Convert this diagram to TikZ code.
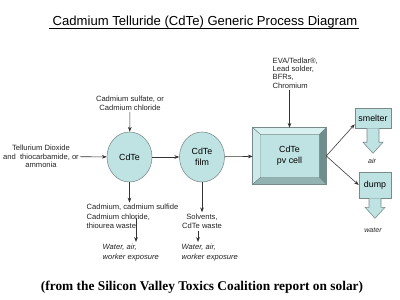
\documentclass[tikz,border=0pt]{standalone}
\usepackage{fontspec}
\setmainfont{Liberation Sans}
\newfontfamily\capfont{Liberation Serif}
\usepackage{tikz}
\usetikzlibrary{positioning,calc,shapes.geometric,arrows.meta}
\definecolor{cdfill}{HTML}{BFE3E3}
\definecolor{cdline}{HTML}{7A8A8A}
\definecolor{cdlite}{HTML}{D9F0F0}
\definecolor{cdleft}{HTML}{CDEAEA}
\definecolor{cddark}{HTML}{6E8E8E}
\definecolor{cdmid}{HTML}{93B3B3}
\definecolor{cdtext}{HTML}{222222}

\begin{document}
\begin{tikzpicture}[x=0.025cm, y=-0.025cm,
  lbl/.style={font=\fontsize{5.4}{6.2}\selectfont\color{cdtext}, inner sep=1pt, align=center},
  wastetxt/.style={lbl, font=\fontsize{5.4}{6.8}\selectfont\color{cdtext}},
  exptxt/.style={lbl, align=left, anchor=west, font=\fontsize{5.4}{7.6}\selectfont\itshape\color{cdtext}},
  proc/.style={ellipse, draw=cdline, fill=cdfill, line width=0.4pt, minimum width=1.125cm,
    minimum height=1.25cm, inner sep=0pt, align=center, font=\fontsize{6.3}{7.8}\selectfont},
  bin/.style={rectangle, draw=cdline, fill=cdfill, line width=0.4pt, inner sep=0pt,
    font=\fontsize{6.3}{7.8}\selectfont},
  spout/.style={draw=cdline, fill=cdfill, line width=0.4pt},
  flow/.style={draw=black!80, line width=0.4pt, -{Stealth[length=3.4pt,width=2.6pt]}},
]
\useasboundingbox (0,0) rectangle (400,300);

% heading
\node[inner sep=0pt, font=\fontsize{9.3}{11}\selectfont] (title) at (205,22)
  {Cadmium Telluride (CdTe) Generic Process Diagram};
\draw[line width=0.5pt] ($(title.south west)+(-3,0)$) -- ($(title.south east)+(1,0)$);

% process steps
\node[proc] (cdte) at (129.5,157) {CdTe};
\node[proc] (film) at (202,157) {CdTe\\film};
\node[rectangle, draw=cdline, fill=cdfill, line width=0.4pt, minimum width=1.825cm,
  minimum height=1.4cm, align=center, font=\fontsize{6.3}{7.8}\selectfont] (cell) at (289.5,156)
  {CdTe\\pv cell};
% bevelled frame of the pv cell
\filldraw[draw=cdline, fill=cdlite, line width=0.3pt] (cell.north west) -- (cell.north east)
  -- ($(cell.north east)+(-7,7)$) -- ($(cell.north west)+(8,7)$) -- cycle;
\filldraw[draw=cdline, fill=cdleft, line width=0.3pt] (cell.north west) -- ($(cell.north west)+(8,7)$)
  -- ($(cell.south west)+(8,-7)$) -- (cell.south west) -- cycle;
\filldraw[draw=cdline, fill=cddark, line width=0.3pt] (cell.north east) -- ($(cell.north east)+(-7,7)$)
  -- ($(cell.south east)+(-7,-7)$) -- (cell.south east) -- cycle;
\filldraw[draw=cdline, fill=cdmid, line width=0.3pt] (cell.south west) -- ($(cell.south west)+(8,-7)$)
  -- ($(cell.south east)+(-7,-7)$) -- (cell.south east) -- cycle;
\draw[cdline, line width=0.4pt] (cell.north west) rectangle (cell.south east);

\node[bin, minimum width=0.9cm, minimum height=0.5cm] (smelter) at (373,118) {smelter};
\node[bin, minimum width=0.8cm, minimum height=0.65cm] (dump) at (375,185) {dump};
\foreach \b/\h in {smelter/14, dump/9} {
  \filldraw[spout] ($(\b.south)+(-6,0)$) -- ++(0,\h) -- ++(-4,0) -- ++(10,11) -- ++(10,-11)
    -- ++(-4,0) -- ++(0,-\h);
}
\node[lbl, font=\fontsize{5}{6}\selectfont\itshape\color{cdtext}] (air) at (372,161) {air};
\node[lbl, font=\fontsize{5}{6}\selectfont\itshape\color{cdtext}] (water) at (373,230) {water};

% inputs
\node[lbl] (tel) at (41,156.5) {Tellurium Dioxide\\and\ \ thiocarbamide, or\\ammonia};
\node[lbl] (sulf) at (130,103) {Cadmium sulfate, or\\Cadmium chloride};
\node[lbl, align=left, anchor=west, font=\fontsize{5.4}{5.9}\selectfont\color{cdtext}] (eva) at (271,73)
  {EVA/Tedlar®,\\Lead solder,\\BFRs,\\Chromium};

% wastes
\node[wastetxt, align=left, anchor=west] (waste1) at (85,216.5)
  {Cadmium, cadmium sulfide\\Cadmium chloride,\\thiourea waste};
\node[wastetxt] (waste2) at (202,221.5) {Solvents,\\CdTe waste};
\node[exptxt] (exp1) at (101,252.5) {Water, air,\\worker exposure};
\node[exptxt] (exp2) at (180,252.5) {Water, air,\\worker exposure};
\coordinate (w1) at (136,218);
\coordinate (w2) at (198,231);

% connectors
\draw[flow] (tel) -- (cdte);
\draw[flow] (sulf) -- (cdte);
\draw[flow] (cdte) -- (film);
\draw[flow] (film) -- (cell);
\draw[flow] (eva.south -| cell.north) -- (cell.north);
\draw[flow] (cell.east) -- ($(smelter.south west)+(0,-4)$);
\draw[flow] (cell.east) -- (dump.west);
\draw[flow] (cdte.south) -- (cdte.south |- waste1.north);
\draw[flow] (film.south) -- (film.south |- waste2.north);
\draw[flow] (w1) -- (w1 |- exp1.north);
\draw[flow] (w2) -- (w2 |- exp2.north);

% source line
\node[font=\capfont\bfseries\fontsize{9.5}{11}\selectfont] (src) at (202,287)
  {(from the Silicon Valley Toxics Coalition report on solar)};
\end{tikzpicture}
\end{document}
